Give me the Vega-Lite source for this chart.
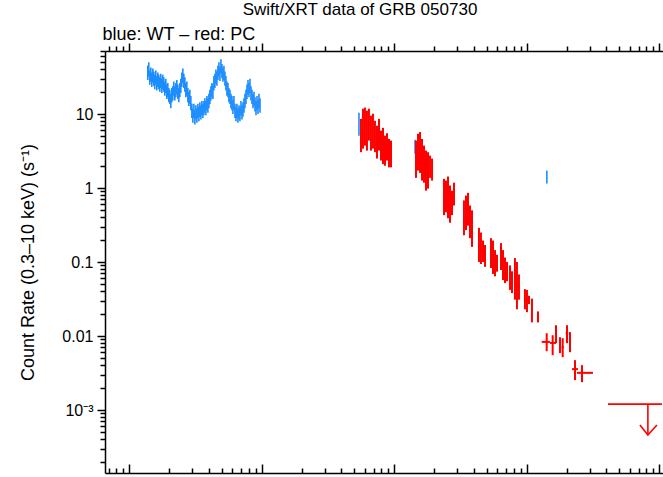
{
  "$schema": "https://vega.github.io/schema/vega-lite/v6.json",
  "autosize": {"type": "none"},
  "padding": {"left": 105, "top": 51, "right": 0, "bottom": 4},
  "width": 558,
  "height": 422,
  "background": "white",
  "config": {
    "font": "Liberation Sans",
    "view": {"stroke": null},
    "axis": {
      "grid": false,
      "domainColor": "black",
      "domainWidth": 1.5,
      "tickColor": "black",
      "tickWidth": 1.5,
      "labelColor": "black",
      "labelFont": "Liberation Sans",
      "labelFontSize": 16,
      "labelOverlap": false,
      "labelFlush": false,
      "titleColor": "black",
      "titleFont": "Liberation Sans",
      "titleFontSize": 18,
      "titleFontWeight": "normal"
    }
  },
  "title": {
    "text": "Swift/XRT data of GRB 050730",
    "anchor": "middle",
    "dx": -24,
    "font": "Liberation Sans",
    "fontSize": 17,
    "fontWeight": "normal",
    "color": "black",
    "offset": 6
  },
  "datasets": {
    "wt": [
      {"t":138,"r":36,"lo":28.8,"hi":45},{"t":140.4,"r":40,"lo":32,"hi":50},{"t":142.9,"r":31,"lo":24.8,"hi":38.8},{"t":145.4,"r":34,"lo":27.2,"hi":42.5},
      {"t":148,"r":29,"lo":23.2,"hi":36.3},{"t":150.6,"r":33,"lo":26.4,"hi":41.3},{"t":153.2,"r":30,"lo":24,"hi":37.5},{"t":155.9,"r":27,"lo":21.6,"hi":33.8},
      {"t":158.6,"r":31,"lo":24.8,"hi":38.8},{"t":161.4,"r":26,"lo":20.8,"hi":32.5},{"t":164.3,"r":29,"lo":23.2,"hi":36.3},{"t":167.2,"r":27,"lo":21.6,"hi":33.8},
      {"t":170.1,"r":25,"lo":20,"hi":31.3},{"t":173.1,"r":28,"lo":22.4,"hi":35},{"t":176.1,"r":24,"lo":19.2,"hi":30},{"t":179.2,"r":27,"lo":21.6,"hi":33.8},
      {"t":182.3,"r":25,"lo":20,"hi":31.3},{"t":185.5,"r":22,"lo":17.6,"hi":27.5},{"t":188.8,"r":24,"lo":19.2,"hi":30},{"t":192.1,"r":20,"lo":16,"hi":25},
      {"t":195.5,"r":21,"lo":16.8,"hi":26.3},{"t":198.9,"r":18,"lo":14.4,"hi":22.5},{"t":202.4,"r":17,"lo":13.6,"hi":21.3},{"t":206,"r":15,"lo":12,"hi":18.8},
      {"t":209.6,"r":18,"lo":14.4,"hi":22.5},{"t":213.2,"r":19,"lo":15.2,"hi":23.8},{"t":217,"r":22,"lo":17.6,"hi":27.5},{"t":220.8,"r":19,"lo":15.2,"hi":23.8},
      {"t":224.7,"r":21,"lo":16.8,"hi":26.3},{"t":228.6,"r":23,"lo":18.4,"hi":28.8},{"t":232.6,"r":20,"lo":16,"hi":25},{"t":236.7,"r":18,"lo":14.4,"hi":22.5},
      {"t":240.9,"r":21,"lo":16.8,"hi":26.3},{"t":245.1,"r":24,"lo":19.2,"hi":30},{"t":249.4,"r":29,"lo":23.2,"hi":36.3},{"t":253.8,"r":33,"lo":26.4,"hi":41.3},
      {"t":258.3,"r":28,"lo":22.4,"hi":35},{"t":262.8,"r":25,"lo":20,"hi":31.3},{"t":267.4,"r":21,"lo":16.8,"hi":26.3},{"t":272.1,"r":22,"lo":17.6,"hi":27.5},
      {"t":276.9,"r":18,"lo":14.4,"hi":22.5},{"t":281.8,"r":16,"lo":12.8,"hi":20},{"t":286.7,"r":17,"lo":13.6,"hi":21.3},{"t":291.7,"r":14,"lo":11.2,"hi":17.5},
      {"t":296.9,"r":11,"lo":8.8,"hi":13.8},{"t":302.1,"r":9.5,"lo":7.6,"hi":11.9},{"t":307.4,"r":11,"lo":8.8,"hi":13.8},{"t":312.8,"r":9,"lo":7.2,"hi":11.3},
      {"t":318.3,"r":10.5,"lo":8.4,"hi":13.1},{"t":323.9,"r":9.5,"lo":7.6,"hi":11.9},{"t":329.6,"r":11,"lo":8.8,"hi":13.8},{"t":335.4,"r":10,"lo":8,"hi":12.5},
      {"t":341.2,"r":11.5,"lo":9.2,"hi":14.4},{"t":347.2,"r":10.5,"lo":8.4,"hi":13.1},{"t":353.3,"r":12,"lo":9.6,"hi":15},{"t":359.5,"r":11,"lo":8.8,"hi":13.8},
      {"t":365.8,"r":12,"lo":9.6,"hi":15},{"t":372.3,"r":13,"lo":10.4,"hi":16.3},{"t":378.8,"r":12,"lo":9.6,"hi":15},{"t":385.5,"r":14,"lo":11.2,"hi":17.5},
      {"t":392.2,"r":13,"lo":10.4,"hi":16.3},{"t":399.1,"r":15,"lo":12,"hi":18.8},{"t":406.1,"r":17,"lo":13.6,"hi":21.3},{"t":413.3,"r":19,"lo":15.2,"hi":23.8},
      {"t":420.5,"r":21,"lo":16.8,"hi":26.3},{"t":427.9,"r":20,"lo":16,"hi":25},{"t":435.4,"r":26,"lo":20.8,"hi":32.5},{"t":443.1,"r":28,"lo":22.4,"hi":35},
      {"t":450.9,"r":32,"lo":25.6,"hi":40},{"t":458.8,"r":30,"lo":24,"hi":37.5},{"t":466.8,"r":36,"lo":28.8,"hi":45},{"t":475,"r":40,"lo":32,"hi":50},
      {"t":483.4,"r":35,"lo":28,"hi":43.8},{"t":491.9,"r":44,"lo":35.2,"hi":55},{"t":500.5,"r":38,"lo":30.4,"hi":47.5},{"t":509.3,"r":34,"lo":27.2,"hi":42.5},
      {"t":518.3,"r":36,"lo":28.8,"hi":45},{"t":527.4,"r":30,"lo":24,"hi":37.5},{"t":536.6,"r":26,"lo":20.8,"hi":32.5},{"t":546.1,"r":22,"lo":17.6,"hi":27.5},
      {"t":555.7,"r":21,"lo":16.8,"hi":26.3},{"t":565.4,"r":18,"lo":14.4,"hi":22.5},{"t":575.4,"r":17,"lo":13.6,"hi":21.3},{"t":585.5,"r":15,"lo":12,"hi":18.8},
      {"t":595.8,"r":14,"lo":11.2,"hi":17.5},{"t":606.2,"r":12.5,"lo":10,"hi":15.6},{"t":616.9,"r":14,"lo":11.2,"hi":17.5},{"t":627.7,"r":11,"lo":8.8,"hi":13.8},
      {"t":638.8,"r":10,"lo":8,"hi":12.5},{"t":650,"r":11,"lo":8.8,"hi":13.8},{"t":661.4,"r":9.5,"lo":7.6,"hi":11.9},{"t":673.1,"r":10.5,"lo":8.4,"hi":13.1},
      {"t":684.9,"r":10,"lo":8,"hi":12.5},{"t":696.9,"r":12,"lo":9.6,"hi":15},{"t":709.2,"r":10.5,"lo":8.4,"hi":13.1},{"t":721.6,"r":11.5,"lo":9.2,"hi":14.4},
      {"t":734.3,"r":13,"lo":10.4,"hi":16.3},{"t":747.2,"r":15,"lo":12,"hi":18.8},{"t":760.4,"r":17,"lo":13.6,"hi":21.3},{"t":773.7,"r":20,"lo":16,"hi":25},
      {"t":787.3,"r":23,"lo":18.4,"hi":28.8},{"t":801.2,"r":21,"lo":16.8,"hi":26.3},{"t":815.3,"r":24,"lo":19.2,"hi":30},{"t":829.6,"r":19,"lo":15.2,"hi":23.8},
      {"t":844.2,"r":17,"lo":13.6,"hi":21.3},{"t":859,"r":15,"lo":12,"hi":18.8},{"t":874.1,"r":16,"lo":12.8,"hi":20},{"t":889.5,"r":13.5,"lo":10.8,"hi":16.9},
      {"t":905.1,"r":12,"lo":9.6,"hi":15},{"t":921,"r":14,"lo":11.2,"hi":17.5},{"t":937.2,"r":12.5,"lo":10,"hi":15.6},{"t":953.7,"r":15,"lo":12,"hi":18.8},
      {"t":970.5,"r":13,"lo":10.4,"hi":16.3},
      {"t":5420,"r":7.4,"lo":5.1,"hi":10.4},
      {"t":14360,"r":3.6,"lo":2.9,"hi":4.5},
      {"t":142000,"r":1.43,"lo":1.15,"hi":1.72}
    ],
    "pc": [
      {"t":5612,"t0":5517,"t1":5707,"r":5.1,"lo":3.05,"hi":8.6},
      {"t":5810,"t0":5711,"t1":5909,"r":6.3,"lo":3.4,"hi":11.8},
      {"t":6015,"t0":5913,"t1":6117,"r":6.8,"lo":3.74,"hi":12.2},
      {"t":6228,"t0":6122,"t1":6334,"r":6.0,"lo":3.2,"hi":11.1},
      {"t":6448,"t0":6338,"t1":6558,"r":7.2,"lo":4.37,"hi":11.8},
      {"t":6676,"t0":6563,"t1":6789,"r":5.5,"lo":3.2,"hi":9.5},
      {"t":6913,"t0":6795,"t1":7031,"r":5.9,"lo":3.4,"hi":10.1},
      {"t":7158,"t0":7036,"t1":7280,"r":5.0,"lo":3.05,"hi":8.1},
      {"t":7412,"t0":7286,"t1":7538,"r":4.2,"lo":2.5,"hi":6.95},
      {"t":7674,"t0":7544,"t1":7804,"r":5.2,"lo":3.2,"hi":8.6},
      {"t":7946,"t0":7811,"t1":8081,"r":3.75,"lo":2.35,"hi":5.95},
      {"t":8227,"t0":8087,"t1":8367,"r":3.7,"lo":2.1,"hi":6.5},
      {"t":8518,"t0":8373,"t1":8663,"r":3.2,"lo":2.0,"hi":5.1},
      {"t":8820,"t0":8670,"t1":8970,"r":3.6,"lo":2.35,"hi":5.5},
      {"t":9132,"t0":8977,"t1":9287,"r":2.95,"lo":1.9,"hi":4.6},
      {"t":9456,"t0":9295,"t1":9617,"r":2.9,"lo":1.9,"hi":4.37},
      {"t":14600,"t0":14352,"t1":14848,"r":2.45,"lo":1.37,"hi":4.37},
      {"t":15120,"t0":14863,"t1":15377,"r":3.05,"lo":1.72,"hi":5.4},
      {"t":15660,"t0":15394,"t1":15926,"r":3.0,"lo":1.6,"hi":5.7},
      {"t":16210,"t0":15934,"t1":16486,"r":2.4,"lo":1.26,"hi":4.6},
      {"t":16790,"t0":16505,"t1":17075,"r":2.1,"lo":1.18,"hi":3.74},
      {"t":17380,"t0":17085,"t1":17675,"r":1.7,"lo":0.92,"hi":3.2},
      {"t":18000,"t0":17694,"t1":18306,"r":1.73,"lo":0.98,"hi":3.05},
      {"t":18640,"t0":18323,"t1":18957,"r":1.94,"lo":1.37,"hi":2.74},
      {"t":19300,"t0":18972,"t1":19628,"r":1.78,"lo":1.26,"hi":2.5},
      {"t":23760,"t0":23356,"t1":24164,"r":0.76,"lo":0.43,"hi":1.33},
      {"t":24600,"t0":24182,"t1":25018,"r":0.77,"lo":0.47,"hi":1.26},
      {"t":25470,"t0":25037,"t1":25903,"r":0.75,"lo":0.39,"hi":1.43},
      {"t":26370,"t0":25922,"t1":26818,"r":0.6,"lo":0.34,"hi":1.08},
      {"t":27310,"t0":26846,"t1":27774,"r":0.63,"lo":0.43,"hi":0.92},
      {"t":28280,"t0":27799,"t1":28761,"r":0.83,"lo":0.58,"hi":1.18},
      {"t":33620,"t0":33048,"t1":34192,"r":0.4,"lo":0.23,"hi":0.68},
      {"t":34820,"t0":34228,"t1":35412,"r":0.46,"lo":0.27,"hi":0.79},
      {"t":36060,"t0":35447,"t1":36673,"r":0.52,"lo":0.31,"hi":0.86},
      {"t":37340,"t0":36705,"t1":37975,"r":0.35,"lo":0.21,"hi":0.58},
      {"t":38670,"t0":38013,"t1":39327,"r":0.28,"lo":0.16,"hi":0.5},
      {"t":43630,"t0":42888,"t1":44372,"r":0.17,"lo":0.1,"hi":0.29},
      {"t":45170,"t0":44402,"t1":45938,"r":0.15,"lo":0.094,"hi":0.25},
      {"t":46780,"t0":45985,"t1":47575,"r":0.14,"lo":0.1,"hi":0.195},
      {"t":48440,"t0":47617,"t1":49263,"r":0.12,"lo":0.086,"hi":0.17},
      {"t":53760,"t0":52846,"t1":54674,"r":0.13,"lo":0.083,"hi":0.21},
      {"t":55670,"t0":54724,"t1":56616,"r":0.116,"lo":0.069,"hi":0.195},
      {"t":57650,"t0":56670,"t1":58630,"r":0.096,"lo":0.064,"hi":0.145},
      {"t":59700,"t0":58685,"t1":60715,"r":0.096,"lo":0.074,"hi":0.125},
      {"t":63970,"t0":62883,"t1":65057,"r":0.118,"lo":0.078,"hi":0.18},
      {"t":66240,"t0":65114,"t1":67366,"r":0.091,"lo":0.057,"hi":0.145},
      {"t":68600,"t0":67434,"t1":69766,"r":0.077,"lo":0.052,"hi":0.115},
      {"t":71040,"t0":69832,"t1":72248,"r":0.075,"lo":0.055,"hi":0.1},
      {"t":74800,"t0":73528,"t1":76072,"r":0.062,"lo":0.042,"hi":0.09},
      {"t":77460,"t0":76143,"t1":78777,"r":0.053,"lo":0.038,"hi":0.075},
      {"t":81560,"t0":80173,"t1":82947,"r":0.06,"lo":0.031,"hi":0.113},
      {"t":84440,"t0":83005,"t1":85875,"r":0.048,"lo":0.023,"hi":0.1},
      {"t":87440,"t0":85953,"t1":88927,"r":0.046,"lo":0.031,"hi":0.068},
      {"t":97050,"t0":95400,"t1":98700,"r":0.031,"lo":0.023,"hi":0.043},
      {"t":100500,"t0":98790,"t1":102210,"r":0.03,"lo":0.021,"hi":0.042},
      {"t":104100,"t0":102330,"t1":105870,"r":0.031,"lo":0.027,"hi":0.035},
      {"t":109600,"t0":107740,"t1":111460,"r":0.022,"lo":0.0153,"hi":0.032},
      {"t":121700,"t0":119630,"t1":123770,"r":0.018,"lo":0.0153,"hi":0.0215},
      {"t":141600,"t0":129800,"t1":149900,"r":0.00833,"lo":0.00624,"hi":0.0109},
      {"t":157100,"t0":149900,"t1":166400,"r":0.00807,"lo":0.00551,"hi":0.01025},
      {"t":166400,"t0":163500,"t1":169300,"r":0.01058,"lo":0.008,"hi":0.014},
      {"t":178400,"t0":175300,"t1":181500,"r":0.0075,"lo":0.00587,"hi":0.00964},
      {"t":187000,"t0":183800,"t1":190300,"r":0.00706,"lo":0.00518,"hi":0.00935},
      {"t":201500,"t0":197000,"t1":206000,"r":0.0109,"lo":0.008,"hi":0.014},
      {"t":212300,"t0":208700,"t1":216000,"r":0.0085,"lo":0.00605,"hi":0.0113},
      {"t":231500,"t0":219800,"t1":243900,"r":0.00357,"lo":0.00254,"hi":0.00472},
      {"t":261500,"t0":239800,"t1":316600,"r":0.00318,"lo":0.00238,"hi":0.00404}
    ],
    "ul": [
      {"t":822000,"t0":411000,"t1":1050000,"r":0.0012,"tip":0.00046}
    ],
    "arrow": [
      {"t":716000,"r":0.000628,"k":1},
      {"t":822000,"r":0.00046,"k":2},
      {"t":962000,"r":0.000628,"k":3}
    ]
  },
  "layer": [
    {
      "data": {"name": "wt"},
      "mark": {"type": "rule", "color": "#1a8cff", "strokeWidth": 1.6},
      "encoding": {
        "x": {"field": "t", "type": "quantitative",
          "scale": {"type": "log", "domain": [65.6, 1069000], "nice": false},
          "axis": {
            "orient": "bottom", "labels": false, "title": null, "tickSize": -9,
            "values": [100,1000,10000,100000,1000000]
          }},
        "y": {"field": "lo", "type": "quantitative",
          "scale": {"type": "log", "domain": [0.000141, 71], "nice": false},
          "axis": {
            "orient": "left", "labelPadding": 4, "tickSize": 8,
            "title": "Count Rate (0.3–10 keV) (s⁻¹)",
            "titleX": -77, "titleY": 211, "titleAngle": -90, "titleAlign": "center", "titleBaseline": "middle",
            "values": [0.001,0.01,0.1,1,10],
            "labelExpr": "datum.value == 10 ? '10' : datum.value == 1 ? '1' : datum.value == 0.1 ? '0.1' : datum.value == 0.01 ? '0.01' : '10⁻³'"
          }},
        "y2": {"field": "hi"}
      }
    },
    {
      "data": {"name": "pc"},
      "mark": {"type": "rule", "color": "#ff0000", "strokeWidth": 2},
      "encoding": {
        "x": {"field": "t", "type": "quantitative",
          "scale": {"type": "log", "domain": [65.6, 1069000], "nice": false},
          "axis": {
            "orient": "top", "labels": false, "tickSize": 8,
            "title": "blue: WT – red: PC",
            "titleAnchor": "start", "titleAlign": "left", "titleBaseline": "alphabetic",
            "titleX": -3, "titleY": -12,
            "values": [100,1000,10000,100000,1000000]
          }},
        "y": {"field": "lo", "type": "quantitative",
          "scale": {"type": "log", "domain": [0.000141, 71], "nice": false},
          "axis": {
            "orient": "left", "labels": false, "title": null, "domain": false, "tickSize": 5,
            "values": [0.0002,0.0003,0.0004,0.0005,0.0006,0.0007,0.0008,0.0009,0.002,0.003,0.004,0.005,0.006,0.007,0.008,0.009,0.02,0.03,0.04,0.05,0.06,0.07,0.08,0.09,0.2,0.3,0.4,0.5,0.6,0.7,0.8,0.9,2,3,4,5,6,7,8,9,20,30,40,50,60,70]
          }},
        "y2": {"field": "hi"}
      }
    },
    {
      "data": {"name": "pc"},
      "mark": {"type": "rule", "color": "#ff0000", "strokeWidth": 2},
      "encoding": {
        "x": {"field": "t0", "type": "quantitative",
          "scale": {"type": "log", "domain": [65.6, 1069000], "nice": false},
          "axis": {
            "orient": "bottom", "labels": false, "title": null, "domain": false, "tickSize": -5,
            "values": [70,80,90,200,300,400,500,600,700,800,900,2000,3000,4000,5000,6000,7000,8000,9000,20000,30000,40000,50000,60000,70000,80000,90000,200000,300000,400000,500000,600000,700000,800000,900000]
          }},
        "x2": {"field": "t1"},
        "y": {"field": "r", "type": "quantitative",
          "scale": {"type": "log", "domain": [0.000141, 71], "nice": false}, "axis": null}
      }
    },
    {
      "data": {"name": "ul"},
      "mark": {"type": "rule", "color": "#ff0000", "strokeWidth": 1.6},
      "encoding": {
        "x": {"field": "t0", "type": "quantitative",
          "scale": {"type": "log", "domain": [65.6, 1069000], "nice": false},
          "axis": {
            "orient": "top", "labels": false, "title": null, "domain": false, "tickSize": 5,
            "values": [70,80,90,200,300,400,500,600,700,800,900,2000,3000,4000,5000,6000,7000,8000,9000,20000,30000,40000,50000,60000,70000,80000,90000,200000,300000,400000,500000,600000,700000,800000,900000]
          }},
        "x2": {"field": "t1"},
        "y": {"field": "r", "type": "quantitative",
          "scale": {"type": "log", "domain": [0.000141, 71], "nice": false}, "axis": null}
      }
    },
    {
      "data": {"name": "ul"},
      "mark": {"type": "rule", "color": "#ff0000", "strokeWidth": 1.6},
      "encoding": {
        "x": {"field": "t", "type": "quantitative",
          "scale": {"type": "log", "domain": [65.6, 1069000], "nice": false}, "axis": null},
        "y": {"field": "r", "type": "quantitative",
          "scale": {"type": "log", "domain": [0.000141, 71], "nice": false}, "axis": null},
        "y2": {"field": "tip"}
      }
    },
    {
      "data": {"name": "arrow"},
      "mark": {"type": "line", "color": "#ff0000", "strokeWidth": 1.6},
      "encoding": {
        "x": {"field": "t", "type": "quantitative",
          "scale": {"type": "log", "domain": [65.6, 1069000], "nice": false}, "axis": null},
        "y": {"field": "r", "type": "quantitative",
          "scale": {"type": "log", "domain": [0.000141, 71], "nice": false}, "axis": null},
        "order": {"field": "k"}
      }
    }
  ],
  "resolve": {"axis": {"x": "independent", "y": "independent"}}
}
